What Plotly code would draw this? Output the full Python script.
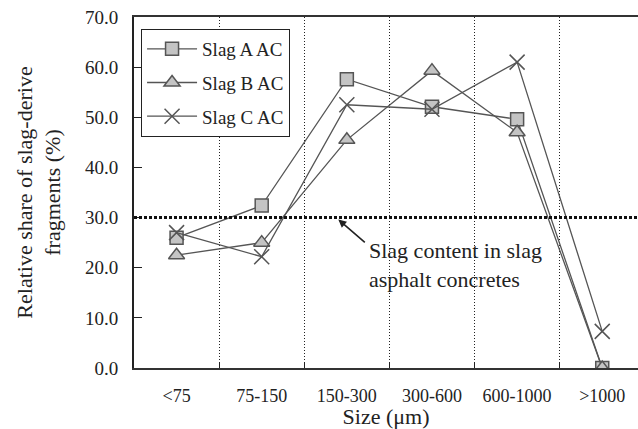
import plotly.graph_objects as go

categories = ["<75", "75-150", "150-300", "300-600", "600-1000", ">1000"]
slag_a = [26.0, 32.4, 57.6, 52.1, 49.6, 0.0]
slag_b = [22.5, 25.0, 45.5, 59.3, 47.0, 0.0]
slag_c = [27.0, 22.2, 52.5, 51.6, 61.0, 7.3]
slag_content = 30.0
y_ticks = [0, 10, 20, 30, 40, 50, 60, 70]

FONT = "Liberation Serif, Times New Roman, serif"
LINE = "#555555"
FILL = "#c4c4c4"
TXT = "#222222"

fig = go.Figure()
specs = [
    ("Slag A AC", slag_a, "square", 13),
    ("Slag B AC", slag_b, "triangle-up", 14),
    ("Slag C AC", slag_c, "x-thin", 15),
]
for name, vals, sym, size in specs:
    fig.add_trace(go.Scatter(
        x=categories, y=vals, name=name, mode="lines+markers",
        legendgroup=name,
        line=dict(color=LINE, width=1.3),
        marker=dict(symbol=sym, size=size, color=FILL,
                    line=dict(color=LINE, width=1.5)),
    ))

fig.add_shape(type="line", xref="paper", x0=0, x1=1, yref="y",
              y0=slag_content, y1=slag_content,
              line=dict(color="#111", width=3, dash="3px,2px"))

fig.add_annotation(x=1.9, y=29.6, xref="x", yref="y", text="",
                   showarrow=True, ax=28, ay=24, arrowhead=2,
                   arrowsize=1, arrowwidth=1.6, arrowcolor=TXT)
fig.add_annotation(x=2.24, y=20.6, xref="x", yref="y",
                   text="Slag content in slag<br>asphalt concretes",
                   showarrow=False, xanchor="left", yanchor="middle",
                   align="left", font=dict(family=FONT, size=22, color=TXT))

fig.update_layout(
    width=638, height=429,
    margin=dict(l=134, r=0, t=17, b=61),
    paper_bgcolor="white", plot_bgcolor="white",
    font=dict(family=FONT, size=18, color=TXT),
    showlegend=True,
    legend=dict(x=0.014, y=0.966, xanchor="left", yanchor="top",
                bordercolor=TXT, borderwidth=1, bgcolor="white",
                font=dict(family=FONT, size=19, color=TXT),
                itemwidth=50, tracegroupgap=6, traceorder="grouped"),
)
fig.update_xaxes(
    type="category", categoryorder="array", categoryarray=categories,
    range=[-0.5, 5.42],
    tickson="boundaries", ticks="inside", ticklen=5, tickcolor=TXT,
    showgrid=True, gridcolor=TXT, griddash="1px,2px", gridwidth=1,
    showline=True, linecolor="#333", linewidth=2, mirror=True,
    tickfont=dict(family=FONT, size=18, color=TXT),
    ticklabelstandoff=10,
    title=dict(text="Size (μm)", font=dict(family=FONT, size=22, color=TXT),
               standoff=2),
    zeroline=False,
)
fig.update_yaxes(
    range=[0, 70], tickvals=y_ticks,
    ticktext=[f"{v:.1f}" for v in y_ticks],
    ticks="inside", ticklen=8, tickcolor=TXT,
    showgrid=False, showline=True, linecolor=TXT, linewidth=2,
    mirror=False, zeroline=False,
    tickfont=dict(family=FONT, size=19, color=TXT),
    ticklabelstandoff=10,
    title=dict(text="Relative share of slag-derive<br>fragments (%)",
               font=dict(family=FONT, size=22, color=TXT), standoff=18),
)

fig.write_html("out.html")
